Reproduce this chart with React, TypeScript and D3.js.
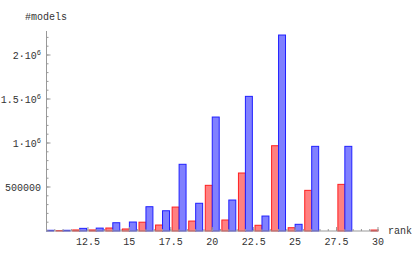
import React from 'react';
import * as d3 from 'd3';

// ranks 10..30, two series per rank
const ranks = d3.range(10, 31);
const redValues = [0, 5000, 12000, 12000, 34000, 23000, 100000, 68000, 272000, 113000, 519000, 125000, 659000, 65000, 969000, 37500, 462000, 0, 530000, 0, 11000];
const blueValues = [8000, 8000, 30000, 33000, 94000, 102000, 276000, 230000, 758000, 315000, 1295000, 352000, 1530000, 170000, 2227000, 76000, 962000, 0, 962000, 0, 0];

const xTicks = [12.5, 15, 17.5, 20, 22.5, 25, 27.5, 30];
const yTicks = [500000, 1000000, 1500000, 2000000];
const yTickLabels = [['500000', ''], ['1·10', '6'], ['1.5·10', '6'], ['2·10', '6']];

const FONT = '"Liberation Mono", "DejaVu Sans Mono", monospace';
const AXIS = '#999';
const TEXT = '#333';

export default function App() {
  const width = 415;
  const height = 257;

  // axis origin at (46.5, 231)
  const xScale = d3.scaleLinear().domain([10, 30]).range([46.5, 378]);
  const yScale = d3.scaleLinear().domain([0, 2000000]).range([231, 55]);
  const yTop = yScale.invert(31);

  const barW = 0.42;
  const x0 = xScale(10);
  const y0 = yScale(0);

  const xMinor = d3.range(10, 30.001, 0.5);
  const yMinor = d3.range(0, yTop, 100000);

  return (
    <svg width={width} height={height} style={{ position: 'absolute', left: 0, top: 0 }}>
      <rect width={width} height={height} fill="#fff" />

      {/* Bars */}
      <g>
        {ranks.map((r, i) => {
          const rv = redValues[i];
          const bv = blueValues[i];
          return (
            <g key={r}>
              {rv > 0 && r > 10 && (
                <rect
                  x={xScale(r - barW)}
                  y={yScale(rv)}
                  width={xScale(r) - xScale(r - barW)}
                  height={y0 - yScale(rv)}
                  fill="#ff8080"
                  stroke="#ff2020"
                  strokeWidth={1}
                />
              )}
              {bv > 0 && (
                <rect
                  x={xScale(r)}
                  y={yScale(bv)}
                  width={xScale(r + barW) - xScale(r)}
                  height={y0 - yScale(bv)}
                  fill="#8080ff"
                  stroke="#2020ff"
                  strokeWidth={1}
                />
              )}
            </g>
          );
        })}
      </g>

      {/* X axis */}
      <g>
        <line x1={x0} x2={xScale(30)} y1={y0} y2={y0} stroke={AXIS} strokeWidth={1} />
        {xMinor.map(t => (
          <line key={t} x1={xScale(t)} x2={xScale(t)} y1={y0} y2={y0 - 2} stroke={AXIS} />
        ))}
        {xTicks.map(t => (
          <g key={t}>
            <line x1={xScale(t)} x2={xScale(t)} y1={y0} y2={y0 - 4} stroke={AXIS} />
            <text
              x={xScale(t)}
              y={y0 + 14}
              textAnchor="middle"
              fontFamily={FONT}
              fontSize={10}
              fill={TEXT}
            >
              {t}
            </text>
          </g>
        ))}
        <text x={388} y={y0 + 3} fontFamily={FONT} fontSize={10} fill={TEXT}>
          rank
        </text>
      </g>

      {/* Y axis */}
      <g>
        <line x1={x0} x2={x0} y1={y0} y2={yScale(yTop)} stroke={AXIS} strokeWidth={1} />
        {yMinor.map(t => (
          <line key={t} x1={x0} x2={x0 + 2} y1={yScale(t)} y2={yScale(t)} stroke={AXIS} />
        ))}
        {yTicks.map((t, i) => (
          <g key={t}>
            <line x1={x0} x2={x0 + 4} y1={yScale(t)} y2={yScale(t)} stroke={AXIS} />
            <text
              x={41}
              y={yScale(t) + 3.5}
              textAnchor="end"
              fontFamily={FONT}
              fontSize={10}
              fill={TEXT}
            >
              {yTickLabels[i][0]}
              {yTickLabels[i][1] && (
                <tspan dy={-4} fontSize={7}>
                  {yTickLabels[i][1]}
                </tspan>
              )}
            </text>
          </g>
        ))}
        <text x={25} y={20} fontFamily={FONT} fontSize={10} fill={TEXT}>
          #models
        </text>
      </g>
    </svg>
  );
}
